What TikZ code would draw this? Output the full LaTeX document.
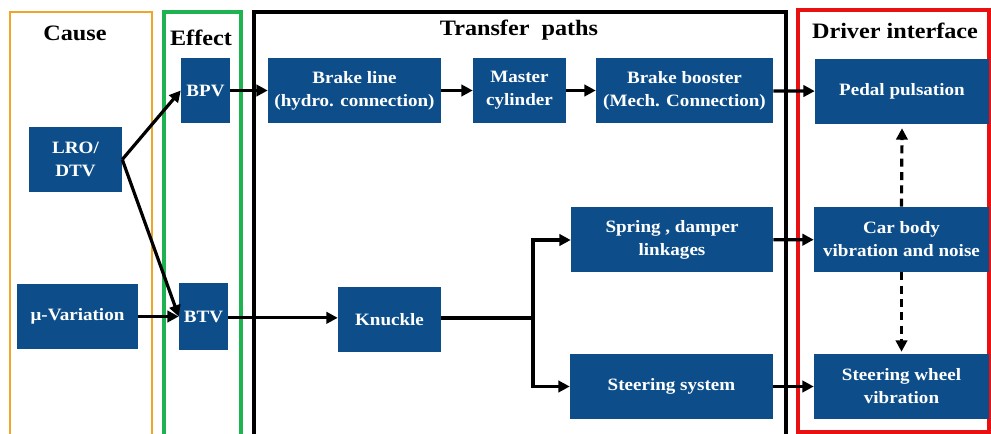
\documentclass[tikz,border=0pt]{standalone}
\usepackage{fontspec}
\setmainfont{Liberation Serif}[FakeStretch=1.1]
\usetikzlibrary{positioning,arrows.meta,calc}
\definecolor{boxblue}{RGB}{13,78,138}
\definecolor{causeorange}{RGB}{238,165,40}
\definecolor{effectgreen}{RGB}{30,178,80}
\definecolor{driverred}{RGB}{232,16,16}

\begin{document}
\begin{tikzpicture}[
x=0.75pt,y=-0.75pt,
blk/.style={fill=boxblue,text=white,font=\fontsize{13}{17.3}\selectfont\bfseries,align=center,inner sep=0pt,minimum height=48.75pt},
hdr/.style={font=\fontsize{16.5}{19}\selectfont\bfseries,inner sep=0pt},
arr/.style={line width=2.4pt,-{Triangle[length=8.5pt,width=8.5pt]}},
darr/.style={arr,dash pattern=on 6pt off 4pt},
]
	\clip (0,0) rectangle (991,434);
	\fill[white] (0,0) rectangle (991,434);
	% frames
	\draw[causeorange,line width=1.7pt] (10,12) rectangle (152,445);
	\draw[effectgreen,line width=2.4pt] (164,12) rectangle (241,445);
	\draw[black,line width=2.7pt] (254,12) rectangle (786,445);
	\draw[driverred,line width=2.7pt] (798,10) rectangle (989,432);
	\node[hdr] (hcause) at (75,33) {Cause};
	\node[hdr] (heffect) at (201,38) {Effect};
	\node[hdr] (htransfer) at (519,30) {Transfer\ \ paths};
	\node[hdr] (hdriver) at (895,31) {Driver interface};
	% cause / effect
	\node[blk,minimum width=69.75pt] (lro) at (75.5,159.5) {LRO/\\DTV};
	\node[blk,minimum width=90.75pt] (mu) at (77.5,316.5) {μ-Variation};
	\node[blk,minimum width=36.75pt] (bpv) at (205.5,90.5) {BPV};
	\node[blk,minimum width=36.75pt,minimum height=50.25pt] (btv) at (203.5,316.5) {BTV};
	% transfer paths
	\node[blk,minimum width=129.75pt] (bline) at (354.5,90.5) {Brake line\\(hydro. connection)};
	\node[blk,minimum width=69.75pt] (master) at (519.5,90.5) {Master\\cylinder};
	\node[blk,minimum width=132.75pt] (booster) at (684.5,90.5) {Brake booster\\(Mech. Connection)};
	\node[blk,minimum width=77.25pt] (knuckle) at (389.5,319.5) {Knuckle};
	\node[blk,minimum width=151.5pt] (spring) at (672,240) {Spring , damper\\linkages};
	\node[blk,minimum width=152.25pt] (steer) at (671.5,386.5) {Steering system};
	% driver interface
	\node[blk,minimum width=130.5pt] (pedal) at (902,91.5) {Pedal pulsation};
	\node[blk,minimum width=131.25pt] (body) at (901.5,239.5) {Car body\\vibration and noise};
	\node[blk,minimum width=131.25pt] (wheel) at (901.5,386.5) {Steering wheel\\vibration};
	\coordinate (fork) at (533,318);

	\draw[arr] (lro.east) -- (bpv.west);
	\draw[arr] (lro.east) -- (btv.west);
	\draw[arr] (mu) -- (btv);
	\draw[arr] (bpv) -- (bline);
	\draw[arr] (bline) -- (master);
	\draw[arr] (master) -- (booster);
	\draw[arr] (booster) -- (pedal);
	\draw[arr] ([yshift=-1pt]btv.east) -- ([yshift=-1pt]btv.east -| knuckle.west);
	\draw[line width=2.4pt] (knuckle.east |- fork) -- (fork);
	\draw[arr] (fork) |- (spring.west);
	\draw[arr] (fork) |- (steer.west);
	\draw[arr] (spring) -- (body);
	\draw[arr] (steer) -- (wheel);
	\draw[darr] (body.north) -- ([yshift=-3pt]pedal.south);
	\draw[darr] (body.south) -- ([yshift=1.5pt]wheel.north);
\end{tikzpicture}
\end{document}
